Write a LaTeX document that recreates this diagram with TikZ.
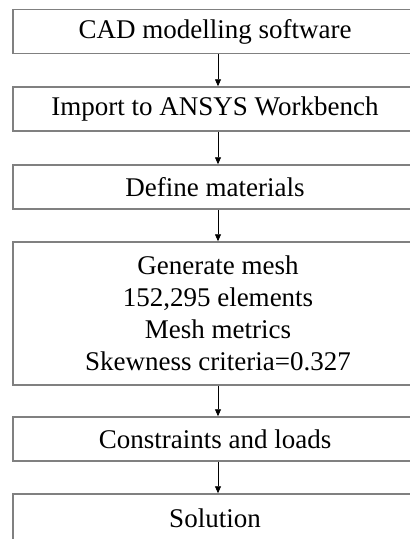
\documentclass[tikz,border=0pt]{standalone}
\usepackage{fontspec}
\setmainfont{Liberation Serif}
\usetikzlibrary{arrows.meta}

\begin{document}
\begin{tikzpicture}[x=1pt, y=-1pt, >={Triangle[width=6pt,length=7pt]},
  box/.style={draw=gray, line width=1.5pt, rectangle, inner sep=0pt,
    minimum width=410pt, minimum height=44pt, align=center,
    font=\fontsize{27}{32}\selectfont}]
  \useasboundingbox (0,0) rectangle (410,539);
  \clip (0,0) rectangle (410,539);

  \node[box] (cad) at (218,31.5) {CAD modelling software\hspace{6pt}};
  \node[box] (import) at (218,109) {Import to ANSYS Workbench\hspace{6pt}};
  \node[box] (mat) at (218,187) {Define materials\hspace{6pt}};
  \node[box, minimum height=143pt] (mesh) at (218,313.5)
    {Generate mesh\hspace{6pt}\\152,295 elements\hspace{6pt}\\Mesh metrics\hspace{6pt}\\Skewness criteria=0.327\hspace{6pt}};
  \node[box] (loads) at (218,439) {Constraints and loads\hspace{6pt}};
  \node[box, minimum height=48pt] (sol) at (218,518) {Solution\hspace{6pt}};

  \draw[->, line width=0.8pt] (cad) -- (import);
  \draw[->, line width=0.8pt] (import) -- (mat);
  \draw[->, line width=0.8pt] (mat) -- (mesh);
  \draw[->, line width=0.8pt] (mesh) -- (loads);
  \draw[->, line width=0.8pt] (loads) -- (sol);
\end{tikzpicture}
\end{document}
